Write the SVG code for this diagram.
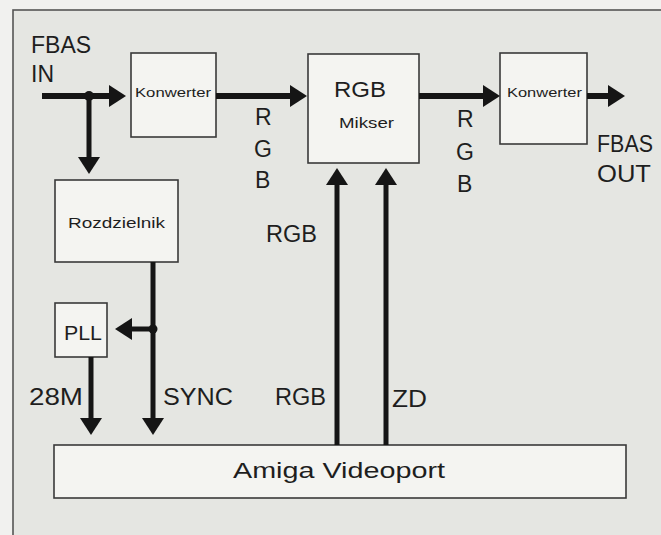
<svg xmlns="http://www.w3.org/2000/svg" width="661" height="535" viewBox="0 0 661 535">
<style>
text{font-family:"Liberation Sans","DejaVu Sans",sans-serif;fill:#1e1e1e}
.box{fill:#f4f4f1;stroke:#3a3a3a;stroke-width:1.6}
.big{font-size:23px}
.sm{font-size:13px}
.w{stroke:#151515;stroke-width:6;fill:none}
.v{stroke:#151515;stroke-width:5;fill:none}
</style>
<defs>
<marker id="ah" markerUnits="userSpaceOnUse" markerWidth="20" markerHeight="24" refX="1" refY="11" orient="auto">
<path d="M0,0 L17,11 L0,22 z" fill="#151515"/>
</marker>
</defs>
<rect x="0" y="0" width="661" height="535" fill="#f1f1ef"/>
<rect x="13" y="10" width="660" height="540" fill="#e5e6e2" stroke="#555" stroke-width="1.6"/>

<g id="fbas-in"><text class="big" x="31" y="53">FBAS</text><text class="big" x="31" y="82">IN</text></g>
<g id="konwerter1"><rect class="box" x="131" y="53" width="85" height="84"/><text class="sm" x="135" y="97" textLength="76" lengthAdjust="spacingAndGlyphs">Konwerter</text></g>
<g id="mikser"><rect class="box" x="308" y="54" width="111" height="109"/><text x="334" y="97" font-size="22" textLength="52" lengthAdjust="spacingAndGlyphs">RGB</text><text x="339" y="128" font-size="14" textLength="55" lengthAdjust="spacingAndGlyphs">Mikser</text></g>
<g id="konwerter2"><rect class="box" x="500" y="53" width="87" height="91"/><text x="507" y="97" font-size="12" textLength="75" lengthAdjust="spacingAndGlyphs">Konwerter</text></g>
<g id="fbas-out"><text class="big" x="597" y="152" textLength="56" lengthAdjust="spacingAndGlyphs">FBAS</text><text class="big" x="597" y="182" textLength="54" lengthAdjust="spacingAndGlyphs">OUT</text></g>
<g id="rozdzielnik"><rect class="box" x="55" y="180" width="123" height="82"/><text x="68" y="228" font-size="15" textLength="97" lengthAdjust="spacingAndGlyphs">Rozdzielnik</text></g>
<g id="pll"><rect class="box" x="55" y="303" width="52" height="54"/><text x="64" y="340" font-size="21" textLength="38" lengthAdjust="spacingAndGlyphs">PLL</text></g>
<g id="videoport"><rect class="box" x="54" y="445" width="572" height="53"/><text x="233" y="478" font-size="22" textLength="212" lengthAdjust="spacingAndGlyphs">Amiga Videoport</text></g>

<g id="labels">
<text class="big" x="255" y="125">R</text><text class="big" x="254" y="157">G</text><text class="big" x="255" y="188">B</text>
<text class="big" x="457" y="127">R</text><text class="big" x="456" y="160">G</text><text class="big" x="457" y="192">B</text>
<text class="big" x="266" y="242" textLength="51" lengthAdjust="spacingAndGlyphs">RGB</text>
<text class="big" x="29" y="405" textLength="54" lengthAdjust="spacingAndGlyphs">28M</text>
<text class="big" x="163" y="405" textLength="70" lengthAdjust="spacingAndGlyphs">SYNC</text>
<text class="big" x="275" y="405" textLength="51" lengthAdjust="spacingAndGlyphs">RGB</text>
<text class="big" x="392" y="407" textLength="35" lengthAdjust="spacingAndGlyphs">ZD</text>
</g>

<g id="connectors">
<line class="w" x1="42" y1="96" x2="110" y2="96" marker-end="url(#ah)"/>
<line class="v" x1="89" y1="96" x2="89" y2="158" marker-end="url(#ah)"/>
<circle cx="89" cy="96" r="5" fill="#151515"/>
<line class="w" x1="216" y1="96" x2="291" y2="96" marker-end="url(#ah)"/>
<line class="w" x1="419" y1="96" x2="484" y2="96" marker-end="url(#ah)"/>
<line class="w" x1="587" y1="96" x2="609" y2="96" marker-end="url(#ah)"/>
<line class="v" x1="153" y1="262" x2="153" y2="419" marker-end="url(#ah)"/>
<line class="v" x1="153" y1="329" x2="131" y2="329" marker-end="url(#ah)"/>
<circle cx="153" cy="329" r="4.5" fill="#151515"/>
<line class="v" x1="91" y1="357" x2="91" y2="419" marker-end="url(#ah)"/>
<line class="v" x1="337" y1="445" x2="337" y2="184" marker-end="url(#ah)"/>
<line class="v" x1="386" y1="445" x2="386" y2="184" marker-end="url(#ah)"/>
</g>
</svg>
